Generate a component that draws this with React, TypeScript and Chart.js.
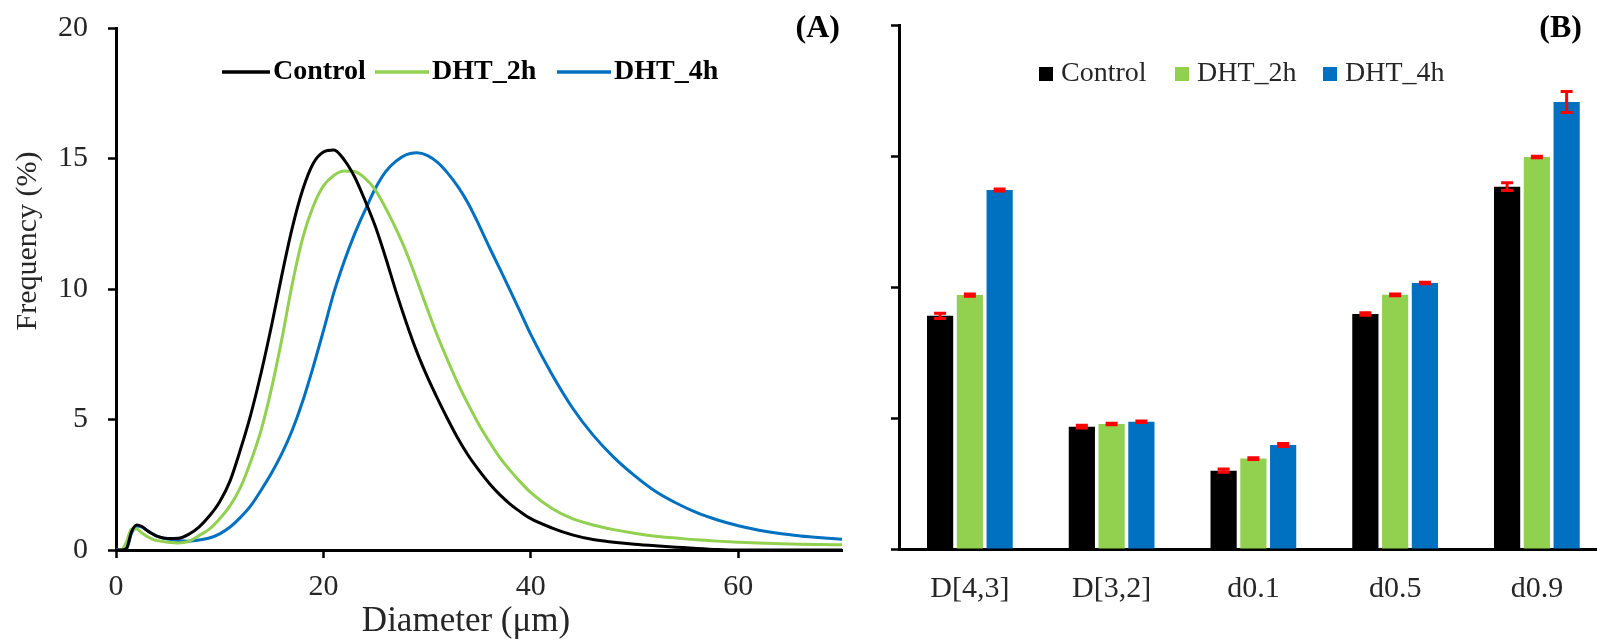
import React, { useEffect, useRef } from 'react';
import { Chart, registerables } from 'chart.js';

Chart.register(...registerables);

// ---------- Panel A: particle size distribution ----------
const DIAMETER = [
  0, 0.5, 1, 1.5, 2, 2.5, 3, 3.5, 4,
  5, 6, 7, 8, 9, 10, 11, 12, 13, 14, 15, 16, 17, 18, 19, 20, 21, 22, 23, 24, 25, 26, 27, 28, 29, 30,
  31, 32, 33, 34, 35, 36, 37, 38, 39, 40,
  42, 44, 46, 48, 50, 52, 54, 56, 58, 60, 62, 64, 66, 68, 70,
];

const CONTROL_FREQ = [
  0, 0, 0.05, 0.7, 0.96, 0.9, 0.75, 0.62, 0.52,
  0.44, 0.45, 0.6, 0.88, 1.3, 1.85, 2.65, 3.85, 5.2, 6.8, 8.6, 10.55, 12.35, 13.8, 14.8, 15.25, 15.33, 14.95, 14.3, 13.4, 12.4, 11.2, 9.9, 8.7, 7.6, 6.65,
  5.8, 5.0, 4.25, 3.6, 3.05, 2.55, 2.12, 1.76, 1.46, 1.2,
  0.85, 0.58, 0.4, 0.3, 0.22, 0.16, 0.11, 0.06, 0.02, 0, 0, 0, 0, 0, 0,
];

const DHT2H_FREQ = [
  0, 0, 0.3, 0.8, 0.8, 0.65, 0.52, 0.42, 0.36,
  0.3, 0.27, 0.33, 0.55, 0.8, 1.2, 1.7, 2.4, 3.4, 4.6, 6.2, 8.1, 10.2, 11.95, 13.15, 13.95, 14.35, 14.52, 14.5, 14.25, 13.8, 13.1, 12.3, 11.4, 10.35, 9.25,
  8.2, 7.25, 6.35, 5.55, 4.8, 4.15, 3.55, 3.05, 2.6, 2.2,
  1.6, 1.2, 0.96, 0.78, 0.64, 0.53, 0.46, 0.39, 0.34, 0.3, 0.27, 0.24, 0.22, 0.21, 0.2,
];

const DHT4H_FREQ = [
  0, 0, 0.05, 0.65, 0.92, 0.88, 0.75, 0.62, 0.52,
  0.42, 0.36, 0.34, 0.38, 0.46, 0.62, 0.88, 1.25, 1.7, 2.3, 2.95, 3.7, 4.6, 5.7, 7.0, 8.4, 9.85, 11.05, 12.1, 13.0, 13.85, 14.5, 14.9, 15.15, 15.22, 15.12,
  14.85, 14.43, 13.9, 13.25, 12.45, 11.6, 10.78, 9.95, 9.1, 8.25,
  6.75, 5.45, 4.4, 3.55, 2.85, 2.25, 1.8, 1.43, 1.15, 0.93, 0.76, 0.63, 0.54, 0.47, 0.41,
];

// ---------- Panel B: size parameters ----------
const CATEGORIES = ['D[4,3]', 'D[3,2]', 'd0.1', 'd0.5', 'd0.9'];
const CONTROL_SIZE = [8.9, 4.67, 2.99, 8.97, 13.83];
const DHT2H_SIZE = [9.69, 4.77, 3.45, 9.7, 14.96];
const DHT4H_SIZE = [13.7, 4.86, 3.97, 10.15, 17.06];
const CONTROL_ERR = [0.1, 0.05, 0.06, 0.05, 0.15];
const DHT2H_ERR = [0.04, 0.03, 0.03, 0.03, 0.03];
const DHT4H_ERR = [0.04, 0.03, 0.06, 0.03, 0.4];

const SERIES_NAMES = ['Control', 'DHT_2h', 'DHT_4h'];
const COLORS = ['#000000', '#92D050', '#0070C0'];

const FONT = '"Liberation Serif", "Times New Roman", serif';
const TEXT_COLOR = '#262626';

export default function App() {
  const leftRef = useRef<HTMLCanvasElement>(null);
  const rightRef = useRef<HTMLCanvasElement>(null);

  useEffect(() => {
    Chart.defaults.font.family = FONT;

    const toPoints = (ys: number[]) => DIAMETER.map((x, i) => ({ x, y: ys[i] }));

    const leftOverlay = {
      id: 'leftOverlay',
      afterDraw(chart: any) {
        const ctx = chart.ctx as CanvasRenderingContext2D;
        ctx.save();
        // legend (line samples)
        const starts = [222, 375, 557];
        const lens = [48, 54, 54];
        const ly = 72;
        ctx.font = `bold 28px ${FONT}`;
        ctx.textBaseline = 'middle';
        ctx.textAlign = 'left';
        chart.data.datasets.forEach((ds: any, i: number) => {
          ctx.strokeStyle = ds.borderColor;
          ctx.lineWidth = 3.5;
          ctx.beginPath();
          ctx.moveTo(starts[i], ly);
          ctx.lineTo(starts[i] + lens[i], ly);
          ctx.stroke();
          ctx.fillStyle = '#000';
          ctx.fillText(ds.label, starts[i] + lens[i] + 3, ly);
        });
        // panel label
        ctx.font = `bold 32px ${FONT}`;
        ctx.textAlign = 'right';
        ctx.fillText('(A)', 840, 29);
        // axis titles
        ctx.fillStyle = TEXT_COLOR;
        ctx.font = `35px ${FONT}`;
        ctx.textAlign = 'center';
        ctx.fillText('Diameter (\u03bcm)', 466, 622);
        ctx.translate(28, 241);
        ctx.rotate(-Math.PI / 2);
        ctx.font = `30px ${FONT}`;
        ctx.fillText('Frequency (%)', 0, 0);
        ctx.restore();
      },
    };

    const axisCommon = {
      grid: { drawOnChartArea: false, tickLength: 8, tickWidth: 2.5, tickColor: '#000' },
      border: { color: '#000', width: 3 },
    };

    const c1 = new Chart(leftRef.current!, {
      type: 'line',
      data: {
        datasets: [
          { label: SERIES_NAMES[0], data: toPoints(CONTROL_FREQ), borderColor: COLORS[0] },
          { label: SERIES_NAMES[1], data: toPoints(DHT2H_FREQ), borderColor: COLORS[1] },
          { label: SERIES_NAMES[2], data: toPoints(DHT4H_FREQ), borderColor: COLORS[2] },
        ].map((d) => ({
          ...d,
          borderWidth: 3,
          pointRadius: 0,
          fill: false,
          cubicInterpolationMode: 'monotone' as const,
        })),
      },
      options: {
        animation: false,
        responsive: false,
        layout: { padding: { left: 0, top: 28, right: 38, bottom: 0 } },
        plugins: { legend: { display: false }, tooltip: { enabled: false } },
        scales: {
          x: {
            type: 'linear',
            min: 0,
            max: 70,
            afterFit: (s: any) => { s.height = 94; s.paddingLeft = 0; s.paddingRight = 0; },
            ticks: { stepSize: 20, includeBounds: false, padding: 11, font: { size: 30 }, color: TEXT_COLOR, maxRotation: 0 },
            ...axisCommon,
          },
          y: {
            min: 0,
            max: 20,
            afterFit: (s: any) => { s.width = 116; s.paddingTop = 0; s.paddingBottom = 0; },
            ticks: { stepSize: 5, padding: 20, font: { size: 30 }, color: TEXT_COLOR },
            ...axisCommon,
          },
        },
      } as any,
      plugins: [leftOverlay],
    });

    const errs = [CONTROL_ERR, DHT2H_ERR, DHT4H_ERR];

    const rightOverlay = {
      id: 'rightOverlay',
      afterDatasetsDraw(chart: any) {
        const ctx = chart.ctx as CanvasRenderingContext2D;
        const ys = chart.scales.y;
        ctx.save();
        ctx.strokeStyle = '#FF0000';
        ctx.lineWidth = 3;
        chart.data.datasets.forEach((ds: any, d: number) => {
          const meta = chart.getDatasetMeta(d);
          meta.data.forEach((bar: any, i: number) => {
            const v = ds.data[i];
            const e = errs[d][i];
            const top = ys.getPixelForValue(v + e);
            const bot = ys.getPixelForValue(v - e);
            const x = bar.x;
            ctx.beginPath();
            ctx.moveTo(x, top);
            ctx.lineTo(x, bot);
            ctx.moveTo(x - 6, top);
            ctx.lineTo(x + 6, top);
            ctx.moveTo(x - 6, bot);
            ctx.lineTo(x + 6, bot);
            ctx.stroke();
          });
        });
        ctx.restore();
      },
      afterDraw(chart: any) {
        const ctx = chart.ctx as CanvasRenderingContext2D;
        ctx.save();
        const starts = [159, 295, 443];
        const ly = 74;
        ctx.font = `28px ${FONT}`;
        ctx.textBaseline = 'middle';
        ctx.textAlign = 'left';
        chart.data.datasets.forEach((ds: any, i: number) => {
          ctx.fillStyle = ds.backgroundColor;
          ctx.fillRect(starts[i], ly - 7, 14, 14);
          ctx.fillStyle = TEXT_COLOR;
          ctx.fillText(ds.label, starts[i] + 22, ly);
        });
        ctx.fillStyle = '#000';
        ctx.font = `bold 32px ${FONT}`;
        ctx.textAlign = 'right';
        ctx.fillText('(B)', 702, 29);
        ctx.restore();
      },
    };

    const c2 = new Chart(rightRef.current!, {
      type: 'bar',
      data: {
        labels: CATEGORIES,
        datasets: [
          { label: SERIES_NAMES[0], data: CONTROL_SIZE, backgroundColor: COLORS[0] },
          { label: SERIES_NAMES[1], data: DHT2H_SIZE, backgroundColor: COLORS[1] },
          { label: SERIES_NAMES[2], data: DHT4H_SIZE, backgroundColor: COLORS[2] },
        ].map((d) => ({ ...d, borderWidth: 0, categoryPercentage: 0.63, barPercentage: 0.88 })),
      },
      options: {
        animation: false,
        responsive: false,
        layout: { padding: { left: 0, top: 25, right: 12.25, bottom: 0 } },
        plugins: { legend: { display: false }, tooltip: { enabled: false } },
        scales: {
          x: {
            afterFit: (s: any) => { s.height = 95; s.paddingLeft = 0; s.paddingRight = 0; },
            ticks: { padding: 22, font: { size: 30 }, color: TEXT_COLOR, maxRotation: 0, autoSkip: false },
            grid: { display: false, drawTicks: false },
            border: { color: '#000', width: 3 },
          },
          y: {
            min: 0,
            max: 20,
            afterFit: (s: any) => { s.width = 19; s.paddingTop = 0; s.paddingBottom = 0; },
            ticks: { stepSize: 5, display: false },
            ...axisCommon,
          },
        },
      } as any,
      plugins: [rightOverlay],
    });

    return () => {
      c1.destroy();
      c2.destroy();
    };
  }, []);

  return (
    <div
      style={{
        position: 'fixed',
        left: 0,
        top: 0,
        width: 1597,
        height: 644,
        overflow: 'hidden',
        background: '#fff',
      }}
    >
      <canvas ref={leftRef} width={880} height={644} style={{ position: 'absolute', left: 0, top: 0, display: 'block' }} />
      <canvas ref={rightRef} width={740} height={644} style={{ position: 'absolute', left: 880, top: 0, display: 'block' }} />
    </div>
  );
}
